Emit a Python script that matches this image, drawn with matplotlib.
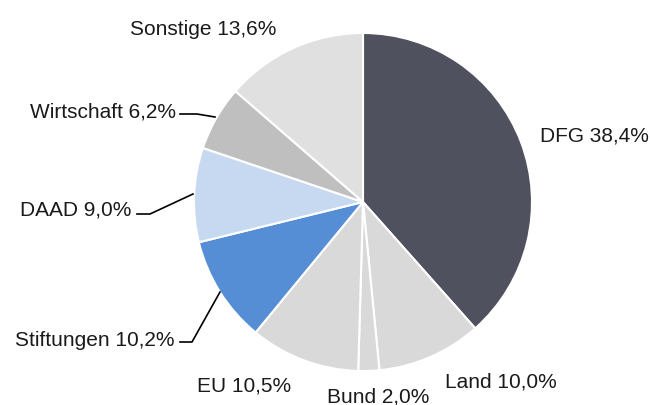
import matplotlib.pyplot as plt

plt.rcParams['font.family'] = ['Liberation Sans', 'DejaVu Sans']

# funding sources, clockwise from the top
sources = ['DFG', 'Land', 'Bund', 'EU', 'Stiftungen', 'DAAD', 'Wirtschaft', 'Sonstige']
shares = [38.4, 10.0, 2.0, 10.5, 10.2, 9.0, 6.2, 13.6]
colors = ['#4f515e', '#d9d9d9', '#d9d9d9', '#d9d9d9', '#558ed5', '#c6d9f1', '#bfbfbf', '#e0e0e0']

W, H = 650, 406
fig = plt.figure(figsize=(6.5, 4.06), dpi=100)
ax = fig.add_axes([0, 0, 1, 1])
ax.set_xlim(0, W)
ax.set_ylim(0, H)
ax.set_aspect('equal')
ax.axis('off')

ax.pie(shares, colors=colors, startangle=90, counterclock=False,
       center=(363, H - 203), radius=169, frame=True,
       wedgeprops=dict(edgecolor='white', linewidth=1.5))
ax.set_xlim(0, W)
ax.set_ylim(0, H)
ax.axis('off')

# label anchors (left x, baseline y in pixels from top)
label_pos = [(540, 141), (445, 388), (327, 403), (197, 392),
             (15, 346), (20, 216), (30, 117), (130, 35)]
for name, v, (x, y) in zip(sources, shares, label_pos):
    txt = f'{name} {v:.1f}%'.replace('.', ',')
    ax.text(x, H - y, txt, fontsize=15, ha='left', va='baseline', color='#1a1a1a')

# leader lines
leaders = [
    [(180, 343), (192, 343), (220, 293)],
    [(137, 215), (150, 215), (193, 195)],
    [(180, 115), (197, 115), (215, 118)],
]
for pts in leaders:
    xs = [p[0] for p in pts]
    ys = [H - p[1] for p in pts]
    ax.plot(xs, ys, color='black', lw=1.2)

fig.savefig('out.png', dpi=100)
